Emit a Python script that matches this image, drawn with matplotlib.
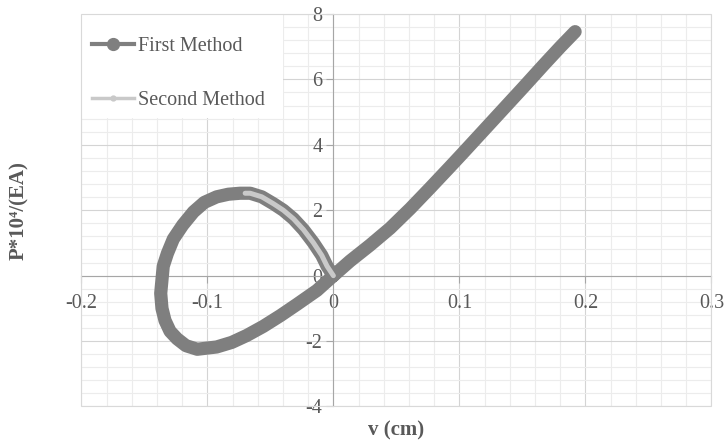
import matplotlib
matplotlib.use('Agg')
import matplotlib.pyplot as plt
from matplotlib.patches import Rectangle
from matplotlib.lines import Line2D
from matplotlib.ticker import MultipleLocator

plt.rcParams['font.family'] = ['Liberation Serif', 'DejaVu Serif']
plt.rcParams['axes.unicode_minus'] = False

# first method: right branch down to the origin, then round the loop back to it
first_v = [0.1918, 0.180, 0.167, 0.151, 0.135, 0.119, 0.103, 0.0926,
           0.0767, 0.061, 0.045, 0.029, 0.0133, 0.0,
           -0.013, -0.029, -0.042, -0.0556, -0.0688, -0.0806, -0.0926,
           -0.108, -0.117, -0.124, -0.1296, -0.1336, -0.136, -0.137,
           -0.135, -0.1317, -0.127, -0.1195, -0.111, -0.1024, -0.0926,
           -0.0833, -0.074, -0.066, -0.0568, -0.0476, -0.0397, -0.0317,
           -0.0238, -0.0159, -0.0092, -0.005, 0.0]
first_p = [7.46, 6.99, 6.45, 5.77, 5.10, 4.43, 3.76, 3.33,
           2.68, 2.05, 1.45, 0.93, 0.45, 0.0,
           -0.45, -0.88, -1.22, -1.55, -1.83, -2.04, -2.18,
           -2.25, -2.14, -1.93, -1.70, -1.37, -1.00, -0.54,
           0.29, 0.68, 1.12, 1.55, 1.95, 2.24, 2.41,
           2.49, 2.52, 2.52, 2.41, 2.20, 2.00, 1.74,
           1.41, 1.01, 0.62, 0.29, 0.0]

# second method only covers the upper right part of the loop
second_v = [-0.070, -0.066, -0.0568, -0.0476, -0.0397, -0.0317, -0.0238,
            -0.0159, -0.0092, -0.005, 0.0]
second_p = [2.52, 2.52, 2.41, 2.20, 2.00, 1.74, 1.41, 1.01, 0.62, 0.29, 0.0]

x_ticks = [-0.2, -0.1, 0, 0.1, 0.2, 0.3]
x_labels = ['-0.2', '-0.1', '0', '0.1', '0.2', '0.3']
y_ticks = [-4, -2, 0, 2, 4, 6, 8]
y_labels = ['-4', '-2', '0', '2', '4', '6', '8']

txt = '#595959'
dark = '#7f7f7f'
light = '#c9c9c9'
rect = [0.112, 0.0824, 0.868, 0.886]

fig = plt.figure(figsize=(7.26, 4.43), dpi=100)

# grid sits in its own axes underneath so tick labels stay on top of it
gx = fig.add_axes(rect, zorder=0)
gx.set_xlim(-0.2, 0.3)
gx.set_ylim(-4, 8)
gx.xaxis.set_major_locator(MultipleLocator(0.1))
gx.yaxis.set_major_locator(MultipleLocator(2))
gx.xaxis.set_minor_locator(MultipleLocator(0.02))
gx.yaxis.set_minor_locator(MultipleLocator(0.4))
gx.grid(which='minor', color='#ececec', lw=0.8)
gx.grid(which='major', color='#d4d4d4', lw=0.8)
gx.tick_params(which='both', length=0, labelbottom=False, labelleft=False)
for s in gx.spines.values():
    s.set_visible(False)

ax = fig.add_axes(rect, zorder=1)
ax.patch.set_visible(False)

ax.plot(first_v, first_p, color=dark, lw=9.5, solid_capstyle='round',
        solid_joinstyle='round', zorder=3)
ax.plot(second_v, second_p, color=light, lw=3.6, solid_capstyle='round',
        solid_joinstyle='round', zorder=4)

ax.set_xlim(-0.2, 0.3)
ax.set_ylim(-4, 8)
ax.set_xticks(x_ticks)
ax.set_xticklabels(x_labels)
ax.set_yticks(y_ticks)
ax.set_yticklabels(y_labels)

# axes cross at the origin
ax.spines['left'].set_position(('data', 0))
ax.spines['bottom'].set_position(('data', 0))
for s in ['left', 'bottom']:
    ax.spines[s].set_color('#a6a6a6')
for s in ['top', 'right']:
    ax.spines[s].set_visible(False)
ax.add_patch(Rectangle((0, 0), 1, 1, transform=ax.transAxes, fill=False,
                       edgecolor='#d9d9d9', lw=0.8, clip_on=False, zorder=5))

ax.tick_params(which='major', length=5, color='#a6a6a6', labelsize=14.5,
               labelcolor=txt, pad=3)
ax.tick_params(axis='x', which='major', pad=8)

ax.set_xlabel('v (cm)', fontsize=15, fontweight='bold', color=txt)
ax.xaxis.set_label_coords(0.5, -0.035)
ax.set_ylabel('P*10⁴/(EA)', fontsize=15, fontweight='bold', color=txt)
ax.yaxis.set_label_coords(-0.083, 0.5)

# legend: white block over the grid, then the entries
ax.add_patch(Rectangle((0, 0.735), 0.32, 0.265, transform=ax.transAxes,
                       facecolor='white', edgecolor='none', zorder=2))
handles = [Line2D([], [], color=dark, lw=3, marker='o', ms=8.5),
           Line2D([], [], color=light, lw=2.5, marker='o', ms=3.5)]
leg = ax.legend(handles, ['First Method', 'Second Method'], loc='upper left',
                bbox_to_anchor=(0.004, 0.961), fontsize=14.5, frameon=False,
                labelspacing=1.7, handlelength=2.1, handletextpad=0.2,
                borderaxespad=0.0)
for t in leg.get_texts():
    t.set_color(txt)

fig.savefig('out.png', dpi=100)
